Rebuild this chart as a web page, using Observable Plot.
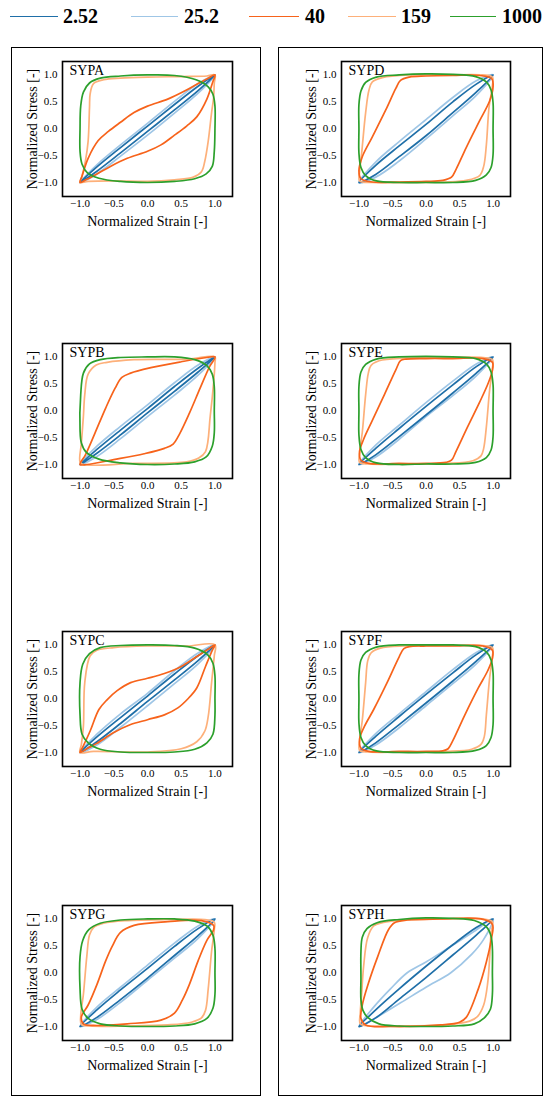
<!DOCTYPE html>
<html><head><meta charset="utf-8">
<script src="https://cdn.jsdelivr.net/npm/d3@7"></script>
<script src="https://cdn.jsdelivr.net/npm/@observablehq/plot@0.6"></script>
<style>
body{margin:0;background:#fff;}
#root{position:relative;width:550px;height:1105px;overflow:hidden;font-family:"Liberation Serif","Times New Roman",serif;background:#fff;}
.box{position:absolute;border:1.6px solid #000;box-sizing:border-box;}
.panel{position:absolute;}
.legline{position:absolute;height:0;border-top:1.6px solid;top:16px;}
.legtxt{position:absolute;top:3px;font-size:20px;font-weight:bold;line-height:26px;color:#000;}
</style></head><body><div id="root"></div>
<script>
// ---- series (frequencies) ----
const freqLabels = ["2.52", "25.2", "40", "159", "1000"];
const freqColors = ["#1f6fa8", "#9fc6e6", "#f7631b", "#fdb07a", "#2ca02c"];
const panelNames = ["SYPA", "SYPB", "SYPC", "SYPG", "SYPD", "SYPE", "SYPF", "SYPH"];
const tickValues = [-1, -0.5, 0, 0.5, 1];
const tickLabels = ["\u22121.0", "\u22120.5", "0.0", "0.5", "1.0"];
const xLabel = "Normalized Strain [-]";
const yLabel = "Normalized Stress [-]";

// ---- SYPA ----
const SYPA_252 = [[1,1],[0.75,0.79],[0.4,0.45],[0,0.05],[-0.4,-0.35],[-0.75,-0.71],[-1,-1],[-0.75,-0.79],[-0.4,-0.45],[0,-0.05],[0.4,0.35],[0.75,0.71]];
const SYPA_25 = [[1,1],[0.75,0.84],[0.4,0.51],[0,0.1],[-0.4,-0.3],[-0.75,-0.67],[-1,-1],[-0.75,-0.84],[-0.4,-0.51],[0,-0.12],[0.4,0.29],[0.75,0.66]];
const SYPA_40 = [[1,1],[0.9,0.94],[0.75,0.84],[0.55,0.7],[0.3,0.55],[0,0.42],[-0.2,0.3],[-0.4,0.12],[-0.58,-0.05],[-0.73,-0.22],[-0.88,-0.55],[-0.97,-0.88],[-1,-1],[-0.9,-0.94],[-0.75,-0.84],[-0.55,-0.7],[-0.3,-0.55],[0,-0.42],[0.2,-0.3],[0.4,-0.12],[0.58,0.05],[0.73,0.22],[0.88,0.55],[0.97,0.88]];
const SYPA_159 = [[1,1],[0.88,0.98],[0.5,0.97],[0,0.96],[-0.4,0.94],[-0.65,0.91],[-0.8,0.84],[-0.85,0.65],[-0.86,0.39],[-0.88,-0.23],[-0.92,-0.6],[-0.97,-0.88],[-1,-1],[-0.88,-0.98],[-0.5,-0.97],[0,-0.98],[0.4,-0.95],[0.68,-0.9],[0.8,-0.8],[0.85,-0.6],[0.9,-0.23],[0.95,0.3],[0.98,0.58],[0.99,0.85]];
const SYPA_1000 = [[1,0],[1,0.42],[0.97,0.64],[0.9,0.78],[0.72,0.91],[0.4,0.99],[0,1.0],[-0.4,0.98],[-0.7,0.94],[-0.86,0.85],[-0.95,0.68],[-0.99,0.42],[-1,0],[-1,-0.42],[-0.97,-0.66],[-0.89,-0.82],[-0.72,-0.92],[-0.4,-0.98],[0,-1.0],[0.4,-0.98],[0.7,-0.93],[0.87,-0.84],[0.96,-0.7],[0.99,-0.42]];

// ---- SYPB ----
const SYPB_252 = [[1,1],[0.75,0.79],[0.4,0.45],[0,0.04],[-0.4,-0.36],[-0.75,-0.72],[-1,-1],[-0.75,-0.79],[-0.4,-0.45],[0,-0.04],[0.4,0.36],[0.75,0.72]];
const SYPB_25 = [[1,1],[0.75,0.85],[0.4,0.52],[0,0.11],[-0.4,-0.29],[-0.75,-0.66],[-1,-1],[-0.75,-0.85],[-0.4,-0.52],[0,-0.11],[0.4,0.29],[0.75,0.66]];
const SYPB_40 = [[1,1],[0.88,0.99],[0.5,0.91],[0.05,0.8],[-0.25,0.7],[-0.38,0.62],[-0.48,0.42],[-0.62,0.05],[-0.78,-0.42],[-0.92,-0.82],[-1,-1],[-0.9,-1.0],[-0.5,-0.91],[-0.05,-0.8],[0.25,-0.7],[0.38,-0.62],[0.48,-0.42],[0.62,-0.05],[0.78,0.42],[0.92,0.82]];
const SYPB_159 = [[1,1],[0.6,0.96],[-0.2,0.95],[-0.6,0.9],[-0.76,0.85],[-0.88,0.68],[-0.93,0.3],[-0.95,-0.1],[-0.98,-0.6],[-1,-0.95],[-0.95,-1.0],[-0.2,-0.98],[0.58,-0.95],[0.76,-0.88],[0.86,-0.76],[0.93,-0.1],[0.98,0.52],[1.0,0.9]];
const SYPB_1000 = [[0.99,0],[0.99,0.44],[0.96,0.68],[0.88,0.84],[0.7,0.95],[0.4,1.0],[0,1.0],[-0.4,0.99],[-0.7,0.95],[-0.86,0.87],[-0.95,0.7],[-0.99,0.3],[-1,-0.35],[-0.98,-0.6],[-0.91,-0.77],[-0.72,-0.9],[-0.4,-0.97],[0,-1.0],[0.4,-0.99],[0.7,-0.95],[0.87,-0.86],[0.96,-0.66],[0.99,-0.41]];

// ---- SYPC ----
const SYPC_252 = [[1,1],[0.75,0.8],[0.4,0.46],[0,0.05],[-0.4,-0.35],[-0.75,-0.71],[-1,-1],[-0.75,-0.8],[-0.4,-0.46],[0,-0.05],[0.4,0.35],[0.75,0.71]];
const SYPC_25 = [[1,1],[0.75,0.85],[0.4,0.52],[0,0.1],[-0.4,-0.28],[-0.75,-0.66],[-1,-1],[-0.75,-0.86],[-0.4,-0.53],[0,-0.13],[0.4,0.28],[0.75,0.65]];
const SYPC_40 = [[1,1],[0.9,0.92],[0.75,0.8],[0.5,0.6],[0.25,0.47],[0,0.38],[-0.25,0.3],[-0.45,0.15],[-0.6,-0.02],[-0.72,-0.2],[-0.85,-0.6],[-0.96,-0.9],[-1,-1],[-0.9,-0.93],[-0.75,-0.83],[-0.5,-0.63],[-0.25,-0.48],[0,-0.39],[0.25,-0.3],[0.45,-0.17],[0.6,0.0],[0.73,0.2],[0.86,0.6],[0.96,0.9]];
const SYPC_159 = [[1,1],[0.58,0.98],[0,0.98],[-0.5,0.95],[-0.75,0.9],[-0.85,0.8],[-0.93,0.3],[-0.95,-0.51],[-0.98,-0.85],[-1,-1],[-0.8,-0.98],[0,-0.99],[0.5,-0.93],[0.73,-0.8],[0.85,-0.6],[0.9,-0.33],[0.95,0.3],[0.99,0.8]];
const SYPC_1000 = [[1,0],[1,0.42],[0.97,0.66],[0.89,0.82],[0.7,0.94],[0.4,0.99],[0,1.0],[-0.4,0.99],[-0.7,0.95],[-0.86,0.84],[-0.96,0.64],[-1,0.3],[-1,-0.3],[-0.97,-0.66],[-0.88,-0.82],[-0.7,-0.94],[-0.4,-0.99],[0,-1.0],[0.4,-0.99],[0.7,-0.94],[0.88,-0.82],[0.97,-0.66],[1,-0.3]];

// ---- SYPG ----
const SYPG_252 = [[1,1],[0.75,0.82],[0.4,0.49],[0,0.08],[-0.4,-0.32],[-0.75,-0.69],[-1,-1],[-0.75,-0.83],[-0.4,-0.5],[0,-0.1],[0.4,0.32],[0.75,0.69]];
const SYPG_25 = [[1,1],[0.75,0.87],[0.4,0.55],[0,0.14],[-0.4,-0.27],[-0.75,-0.64],[-1,-1],[-0.75,-0.87],[-0.4,-0.55],[0,-0.14],[0.4,0.27],[0.75,0.64]];
const SYPG_40 = [[0.98,0.88],[0.8,0.97],[0.3,0.95],[-0.2,0.88],[-0.4,0.75],[-0.52,0.5],[-0.62,0.22],[-0.75,-0.22],[-0.88,-0.6],[-0.98,-0.82],[-0.95,-0.95],[-0.8,-0.98],[-0.3,-0.95],[0.2,-0.88],[0.4,-0.75],[0.52,-0.5],[0.62,-0.22],[0.75,0.22],[0.88,0.6],[0.98,0.8]];
const SYPG_159 = [[0.99,0.94],[0.85,0.99],[0.3,0.99],[-0.3,0.97],[-0.65,0.92],[-0.8,0.84],[-0.86,0.7],[-0.9,0.3],[-0.95,-0.4],[-0.99,-0.8],[-0.98,-0.96],[-0.85,-0.99],[-0.3,-0.99],[0.3,-0.97],[0.65,-0.92],[0.8,-0.84],[0.86,-0.7],[0.9,-0.3],[0.95,0.4],[0.99,0.8]];
const SYPG_1000 = [[1,0],[1,0.45],[0.97,0.7],[0.89,0.86],[0.7,0.96],[0.4,1.0],[0,1.0],[-0.4,0.98],[-0.7,0.92],[-0.87,0.8],[-0.96,0.6],[-1,0.3],[-1,-0.3],[-0.97,-0.68],[-0.88,-0.85],[-0.7,-0.95],[-0.4,-0.99],[0,-1.0],[0.4,-0.99],[0.7,-0.95],[0.88,-0.85],[0.97,-0.66],[1,-0.4]];

// ---- SYPD ----
const SYPD_252 = [[1,1],[0.75,0.83],[0.4,0.5],[0,0.08],[-0.4,-0.32],[-0.75,-0.68],[-1,-1],[-0.75,-0.85],[-0.4,-0.52],[0,-0.13],[0.4,0.3],[0.75,0.68]];
const SYPD_25 = [[1,1],[0.75,0.89],[0.4,0.58],[0,0.17],[-0.4,-0.24],[-0.75,-0.62],[-1,-1],[-0.75,-0.9],[-0.4,-0.6],[0,-0.19],[0.4,0.24],[0.75,0.62]];
const SYPD_40 = [[0.98,0.93],[0.8,0.99],[0.4,0.99],[0,0.98],[-0.25,0.96],[-0.38,0.9],[-0.45,0.75],[-0.6,0.35],[-0.8,-0.15],[-0.95,-0.52],[-1,-0.78],[-0.97,-0.93],[-0.8,-0.99],[-0.4,-0.99],[0,-0.98],[0.25,-0.96],[0.38,-0.9],[0.45,-0.75],[0.6,-0.35],[0.8,0.15],[0.95,0.52],[1,0.78]];
const SYPD_159 = [[0.99,0.96],[0.84,1.0],[0.3,1.0],[-0.25,1.0],[-0.65,0.95],[-0.8,0.87],[-0.85,0.72],[-0.9,0.3],[-0.96,-0.46],[-0.99,-0.8],[-0.99,-0.97],[-0.8,-1.0],[-0.25,-1.0],[0.3,-0.99],[0.6,-0.96],[0.8,-0.87],[0.86,-0.7],[0.9,-0.3],[0.94,0.4],[0.99,0.8]];
const SYPD_1000 = [[1,0],[1,0.48],[0.97,0.72],[0.9,0.87],[0.74,0.97],[0.4,1.01],[0,1.02],[-0.4,1.0],[-0.74,0.96],[-0.9,0.86],[-0.97,0.7],[-1,0.45],[-1,0],[-1,-0.45],[-0.97,-0.72],[-0.9,-0.87],[-0.74,-0.97],[-0.4,-1.0],[0,-1.0],[0.4,-1.0],[0.74,-0.96],[0.9,-0.86],[0.97,-0.72],[1,-0.48]];

// ---- SYPE ----
const SYPE_252 = [[1,1],[0.75,0.82],[0.4,0.48],[0,0.08],[-0.4,-0.33],[-0.75,-0.7],[-1,-1],[-0.75,-0.82],[-0.4,-0.48],[0,-0.08],[0.4,0.33],[0.75,0.7]];
const SYPE_25 = [[1,1],[0.75,0.87],[0.4,0.55],[0,0.15],[-0.4,-0.27],[-0.75,-0.64],[-1,-1],[-0.75,-0.86],[-0.4,-0.53],[0,-0.11],[0.4,0.28],[0.75,0.65]];
const SYPE_40 = [[0.99,0.9],[0.85,0.97],[0.4,0.97],[0,0.97],[-0.3,0.96],[-0.38,0.93],[-0.45,0.76],[-0.62,0.3],[-0.8,-0.18],[-0.93,-0.53],[-0.99,-0.75],[-0.97,-0.92],[-0.85,-0.98],[-0.4,-0.98],[0,-0.98],[0.3,-0.96],[0.38,-0.92],[0.45,-0.75],[0.62,-0.3],[0.8,0.16],[0.93,0.52],[0.99,0.75]];
const SYPE_159 = [[0.99,0.95],[0.85,0.99],[0.3,0.99],[-0.3,0.98],[-0.7,0.93],[-0.82,0.84],[-0.86,0.7],[-0.9,0.3],[-0.95,-0.4],[-0.99,-0.78],[-0.99,-0.96],[-0.85,-0.99],[-0.3,-0.99],[0.3,-0.98],[0.7,-0.93],[0.82,-0.84],[0.86,-0.7],[0.9,-0.3],[0.95,0.4],[0.99,0.78]];
const SYPE_1000 = [[1,0],[1,0.48],[0.97,0.72],[0.9,0.87],[0.74,0.97],[0.4,1.0],[0,1.01],[-0.4,1.0],[-0.74,0.96],[-0.9,0.86],[-0.97,0.72],[-1,0.45],[-1,0],[-1,-0.45],[-0.97,-0.72],[-0.9,-0.87],[-0.74,-0.97],[-0.4,-1.0],[0,-0.99],[0.4,-0.99],[0.74,-0.96],[0.9,-0.87],[0.97,-0.73],[1,-0.48]];

// ---- SYPF ----
const SYPF_252 = [[1,1],[0.75,0.82],[0.4,0.48],[0,0.08],[-0.4,-0.33],[-0.75,-0.7],[-1,-1],[-0.75,-0.82],[-0.4,-0.48],[0,-0.08],[0.4,0.33],[0.75,0.7]];
const SYPF_25 = [[1,1],[0.75,0.86],[0.4,0.54],[0,0.13],[-0.4,-0.28],[-0.75,-0.65],[-1,-1],[-0.75,-0.86],[-0.4,-0.54],[0,-0.13],[0.4,0.28],[0.75,0.65]];
const SYPF_40 = [[0.99,0.9],[0.85,0.98],[0.4,0.98],[0,0.98],[-0.25,0.97],[-0.33,0.93],[-0.4,0.78],[-0.58,0.3],[-0.78,-0.2],[-0.92,-0.52],[-0.99,-0.75],[-0.97,-0.92],[-0.85,-0.98],[-0.4,-0.98],[0,-0.98],[0.25,-0.97],[0.33,-0.93],[0.4,-0.78],[0.58,-0.3],[0.78,0.2],[0.92,0.52],[0.99,0.75]];
const SYPF_159 = [[0.99,0.95],[0.85,0.99],[0.3,0.99],[-0.3,0.98],[-0.68,0.94],[-0.82,0.85],[-0.87,0.7],[-0.9,0.3],[-0.95,-0.4],[-0.99,-0.78],[-0.99,-0.96],[-0.85,-0.99],[-0.3,-0.99],[0.3,-0.98],[0.68,-0.94],[0.82,-0.85],[0.87,-0.7],[0.9,-0.3],[0.95,0.4],[0.99,0.78]];
const SYPF_1000 = [[1,0],[1,0.48],[0.97,0.72],[0.9,0.87],[0.74,0.97],[0.4,1.0],[0,1.0],[-0.4,1.0],[-0.74,0.96],[-0.9,0.86],[-0.97,0.72],[-1,0.45],[-1,0],[-1,-0.45],[-0.97,-0.72],[-0.9,-0.87],[-0.74,-0.97],[-0.4,-1.0],[0,-1.0],[0.4,-1.0],[0.74,-0.96],[0.9,-0.87],[0.97,-0.72],[1,-0.48]];

// ---- SYPH ----
const SYPH_252 = [[1,1],[0.75,0.84],[0.4,0.52],[0,0.12],[-0.4,-0.3],[-0.75,-0.69],[-1,-1],[-0.75,-0.84],[-0.4,-0.49],[0,-0.09],[0.4,0.33],[0.75,0.7]];
const SYPH_25 = [[1,1],[0.72,0.77],[0.32,0.45],[0,0.2],[-0.28,0.0],[-0.53,-0.3],[-0.78,-0.64],[-1,-1],[-0.78,-0.86],[-0.38,-0.56],[0,-0.27],[0.37,0.0],[0.68,0.34],[0.86,0.62]];
const SYPH_40 = [[0.99,0.9],[0.82,1.0],[0.22,1.0],[-0.28,0.98],[-0.47,0.93],[-0.56,0.8],[-0.72,0.3],[-0.86,-0.2],[-0.95,-0.6],[-0.97,-0.85],[-0.9,-0.97],[-0.53,-1.0],[0.22,-0.97],[0.5,-0.92],[0.6,-0.83],[0.78,-0.3],[0.9,0.2],[0.97,0.6]];
const SYPH_159 = [[0.99,0.95],[0.85,1.0],[0.3,1.0],[-0.3,0.98],[-0.65,0.93],[-0.78,0.87],[-0.87,0.65],[-0.93,0.12],[-0.96,-0.4],[-0.98,-0.75],[-0.98,-0.95],[-0.85,-0.99],[-0.3,-0.99],[0.3,-0.97],[0.65,-0.9],[0.77,-0.81],[0.86,-0.6],[0.92,-0.19],[0.95,0.3],[0.97,0.75]];
const SYPH_1000 = [[0.99,0],[0.99,0.45],[0.97,0.68],[0.91,0.84],[0.72,0.97],[0.4,1.01],[0,1.02],[-0.4,0.99],[-0.73,0.93],[-0.88,0.82],[-0.95,0.66],[-0.97,0.4],[-0.97,-0.1],[-0.97,-0.5],[-0.94,-0.7],[-0.87,-0.83],[-0.7,-0.95],[-0.4,-0.99],[0,-1.0],[0.4,-0.99],[0.72,-0.95],[0.87,-0.84],[0.96,-0.68],[0.99,-0.4]];

const panelLoops = {
  SYPA: [SYPA_252, SYPA_25, SYPA_40, SYPA_159, SYPA_1000],
  SYPB: [SYPB_252, SYPB_25, SYPB_40, SYPB_159, SYPB_1000],
  SYPC: [SYPC_252, SYPC_25, SYPC_40, SYPC_159, SYPC_1000],
  SYPG: [SYPG_252, SYPG_25, SYPG_40, SYPG_159, SYPG_1000],
  SYPD: [SYPD_252, SYPD_25, SYPD_40, SYPD_159, SYPD_1000],
  SYPE: [SYPE_252, SYPE_25, SYPE_40, SYPE_159, SYPE_1000],
  SYPF: [SYPF_252, SYPF_25, SYPF_40, SYPF_159, SYPF_1000],
  SYPH: [SYPH_252, SYPH_25, SYPH_40, SYPH_159, SYPH_1000]
};

// ---- layout ----
const root = document.getElementById("root");
const FONT = "'Liberation Serif','Times New Roman',serif";

// legend
const legLine = [[10, 58], [131, 178], [249, 299], [348, 396], [450, 496]];
const legText = [63, 184, 305, 401, 502];
freqLabels.forEach((f, i) => {
  const l = document.createElement("div");
  l.className = "legline";
  l.style.left = legLine[i][0] + "px";
  l.style.width = (legLine[i][1] - legLine[i][0]) + "px";
  l.style.borderTopColor = freqColors[i];
  root.appendChild(l);
  const t = document.createElement("div");
  t.className = "legtxt";
  t.style.left = legText[i] + "px";
  t.textContent = f;
  root.appendChild(t);
});

// outer boxes
[[11, 47, 250, 1049], [278, 47, 265, 1049]].forEach(([x, y, w, h]) => {
  const b = document.createElement("div");
  b.className = "box";
  Object.assign(b.style, {left: x + "px", top: y + "px", width: w + "px", height: h + "px"});
  root.appendChild(b);
});

const colFrameX = [62, 341];
const colFrameW = [170, 169];
const rowFrameY = [61, 343, 631, 905];
const frameH = 135;
const mL = 55, mR = 8, mT = 8, mB = 42;
const drawOrder = [1, 0, 3, 2, 4];

panelNames.forEach((name, p) => {
  const col = p < 4 ? 0 : 1;
  const row = p % 4;
  const loops = panelLoops[name];
  const lineMarks = drawOrder.map(s => Plot.line(
    loops[s].map(([x, y]) => ({x, y})),
    {x: "x", y: "y", stroke: freqColors[s], strokeWidth: 1.7, curve: "catmull-rom-closed"}
  ));
  const fmt = d => tickLabels[tickValues.indexOf(d)];
  const svg = Plot.plot({
    width: mL + colFrameW[col] + mR,
    height: mT + frameH + mB,
    marginLeft: mL, marginRight: mR, marginTop: mT, marginBottom: mB,
    x: {domain: [-1.26, 1.26]},
    y: {domain: [-1.26, 1.25]},
    style: {fontFamily: FONT, fontSize: "11px", background: "transparent", color: "#000", overflow: "visible"},
    marks: [
      ...lineMarks,
      Plot.frame({stroke: "#000", strokeWidth: 1.6}),
      Plot.axisX(tickValues, {tickSize: 0, tickPadding: 3, tickFormat: fmt, label: null, fontSize: 11, fontFamily: FONT}),
      Plot.axisY(tickValues, {tickSize: 0, tickPadding: 5, tickFormat: fmt, label: null, fontSize: 11, fontFamily: FONT}),
      Plot.axisX([], {label: xLabel, labelAnchor: "center", labelOffset: 29, labelArrow: "none", fontSize: 14, fontFamily: FONT}),
      Plot.axisY([], {label: yLabel, labelAnchor: "center", labelOffset: 35, labelArrow: "none", fontSize: 14, fontFamily: FONT}),
      Plot.text([name], {frameAnchor: "top-left", dx: 7, dy: 4, textAnchor: "start", lineAnchor: "top", fontSize: 14, fontFamily: FONT})
    ]
  });
  const wrap = document.createElement("div");
  wrap.className = "panel";
  wrap.style.left = (colFrameX[col] - mL) + "px";
  wrap.style.top = (rowFrameY[row] - mT) + "px";
  wrap.appendChild(svg);
  root.appendChild(wrap);
});
</script></body></html>
